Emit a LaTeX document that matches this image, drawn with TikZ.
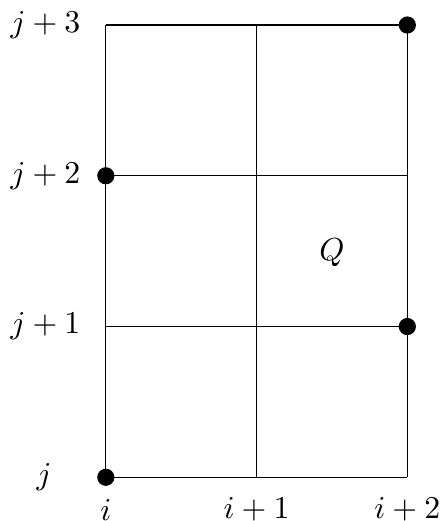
\documentclass[tikz,border=0pt]{standalone}
\usepackage{amsmath,amssymb}
\usepackage{tikz}
\usetikzlibrary{positioning}

\begin{document}
\begin{tikzpicture}[x=1.665cm,y=1.665cm,
  dot/.style={circle,fill=black,inner sep=0pt,minimum size=0.19cm}]
\useasboundingbox (-0.702,-0.29) rectangle (2.219,3.166);
% grid
\foreach \r in {0,1,2,3} \draw (0,\r) -- (2,\r);
\foreach \c in {0,1,2} \draw (\c,0) -- (\c,3);
% row and column labels
\node (j0) at (-0.41,0) {$j$};
\node (j1) at (-0.40,1) {$j+1$};
\node (j2) at (-0.40,2) {$j+2$};
\node (j3) at (-0.40,3) {$j+3$};
\node (i0) at (0,-0.215) {$i$};
\node (i1) at (1,-0.215) {$i+1$};
\node (i2) at (2,-0.215) {$i+2$};
\node (q) at (1.5,1.49) {$Q$};
% marked points
\node[dot] (p0) at (0,0) {};
\node[dot] (p1) at (0,2) {};
\node[dot] (p2) at (2,1) {};
\node[dot] (p3) at (2,3) {};
\end{tikzpicture}
\end{document}
